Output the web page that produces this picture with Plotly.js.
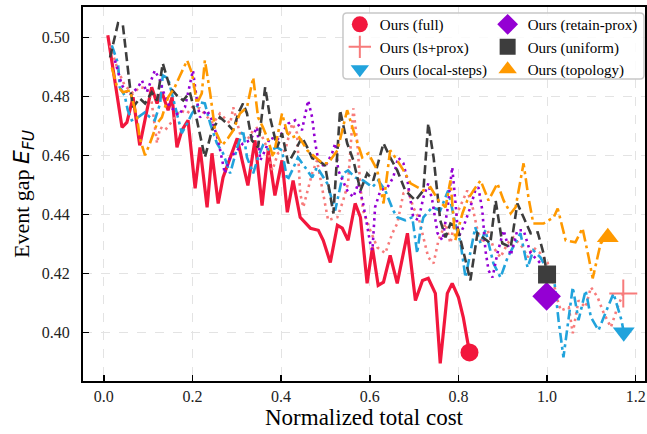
<!DOCTYPE html>
<html>
<head>
<meta charset="utf-8">
<script src="https://cdn.plot.ly/plotly-3.0.1.min.js"></script>
<style>html,body{margin:0;padding:0;background:#fff;}#chart{width:647px;height:434px;}</style>
</head>
<body>
<div id="chart"></div>
<script>
// ---- data ----
const seriesNames = ["Ours (full)", "Ours (ls+prox)", "Ours (local-steps)", "Ours (retain-prox)", "Ours (uniform)", "Ours (topology)"];

const fullX = [0.009,0.041,0.052,0.066,0.081,0.093,0.108,0.120,0.131,0.145,0.154,0.165,0.176,0.190,0.206,0.217,0.233,0.244,0.258,0.269,0.289,0.301,0.312,0.325,0.341,0.357,0.371,0.386,0.402,0.414,0.427,0.443,0.466,0.484,0.495,0.511,0.527,0.538,0.551,0.567,0.579,0.594,0.606,0.619,0.631,0.646,0.662,0.685,0.703,0.719,0.732,0.748,0.759,0.775,0.786,0.800,0.811,0.825];
const fullY = [0.5008,0.4696,0.4713,0.4798,0.4635,0.4720,0.4832,0.4777,0.4815,0.4754,0.4798,0.4628,0.4686,0.4720,0.4489,0.4628,0.4425,0.4608,0.4438,0.4526,0.4608,0.4659,0.4584,0.4499,0.4652,0.4431,0.4618,0.4465,0.4584,0.4408,0.4516,0.4391,0.4354,0.4347,0.4313,0.4238,0.4364,0.4354,0.4313,0.4438,0.4391,0.4167,0.4289,0.4160,0.4171,0.4262,0.4167,0.4337,0.4109,0.4177,0.4184,0.4133,0.3896,0.4133,0.4167,0.4120,0.4052,0.3933];

const lsproxX = [0.014,0.032,0.047,0.066,0.081,0.097,0.108,0.120,0.127,0.138,0.156,0.172,0.188,0.199,0.217,0.233,0.246,0.262,0.276,0.285,0.292,0.307,0.323,0.337,0.348,0.368,0.380,0.393,0.409,0.425,0.436,0.443,0.450,0.470,0.481,0.506,0.527,0.540,0.551,0.563,0.572,0.579,0.585,0.601,0.617,0.635,0.651,0.662,0.676,0.687,0.698,0.710,0.721,0.732,0.744,0.755,0.771,0.782,0.793,0.809,0.820,0.832,0.843,0.854,0.866,0.879,0.895,0.911,0.924,0.945,0.956,0.969,0.985,1.001,1.015,1.024,1.031,1.049,1.058,1.071,1.087,1.099,1.114,1.128,1.144,1.159,1.172];
const lsproxY = [0.4974,0.4889,0.4838,0.4811,0.4832,0.4828,0.4781,0.4642,0.4696,0.4686,0.4720,0.4754,0.4743,0.4764,0.4760,0.4730,0.4709,0.4743,0.4720,0.4709,0.4764,0.4676,0.4652,0.4686,0.4696,0.4628,0.4550,0.4608,0.4618,0.4709,0.4676,0.4472,0.4425,0.4540,0.4584,0.4381,0.4391,0.4448,0.4506,0.4760,0.4642,0.4493,0.4414,0.4347,0.4289,0.4269,0.4337,0.4370,0.4472,0.4482,0.4425,0.4391,0.4323,0.4255,0.4235,0.4313,0.4370,0.4303,0.4391,0.4448,0.4482,0.4425,0.4347,0.4303,0.4347,0.4289,0.4255,0.4303,0.4323,0.4289,0.4255,0.4289,0.4269,0.4238,0.4167,0.4109,0.4075,0.4086,0.3998,0.4109,0.4086,0.4154,0.4120,0.4066,0.4018,0.4086,0.4133];

const localX = [0.018,0.032,0.036,0.047,0.054,0.063,0.077,0.093,0.104,0.115,0.127,0.133,0.145,0.156,0.167,0.176,0.188,0.199,0.217,0.228,0.240,0.255,0.269,0.285,0.301,0.314,0.323,0.337,0.348,0.359,0.375,0.391,0.402,0.414,0.425,0.438,0.454,0.470,0.481,0.504,0.522,0.540,0.551,0.567,0.585,0.606,0.619,0.635,0.653,0.662,0.680,0.696,0.707,0.714,0.721,0.741,0.759,0.777,0.793,0.805,0.816,0.827,0.838,0.850,0.861,0.879,0.895,0.911,0.929,0.940,0.956,0.969,0.985,1.001,1.015,1.026,1.037,1.058,1.071,1.087,1.099,1.116,1.137,1.150,1.168,1.173];
const localY = [0.4974,0.4913,0.4832,0.4804,0.4754,0.4720,0.4730,0.4747,0.4730,0.4720,0.4777,0.4872,0.4862,0.4798,0.4730,0.4676,0.4709,0.4743,0.4781,0.4777,0.4709,0.4642,0.4608,0.4540,0.4628,0.4686,0.4594,0.4540,0.4594,0.4635,0.4618,0.4628,0.4618,0.4516,0.4550,0.4594,0.4561,0.4526,0.4561,0.4506,0.4414,0.4540,0.4550,0.4526,0.4516,0.4493,0.4516,0.4482,0.4414,0.4391,0.4381,0.4391,0.4269,0.4347,0.4391,0.4425,0.4414,0.4482,0.4370,0.4303,0.4187,0.4279,0.4357,0.4303,0.4347,0.4235,0.4187,0.4255,0.4303,0.4337,0.4221,0.4279,0.4255,0.4211,0.4194,0.4042,0.3916,0.4154,0.4042,0.4143,0.4052,0.4008,0.4086,0.4133,0.4042,0.4001];

const retainX = [0.025,0.041,0.059,0.077,0.086,0.097,0.115,0.127,0.133,0.149,0.160,0.167,0.183,0.194,0.201,0.210,0.217,0.233,0.244,0.258,0.267,0.273,0.285,0.301,0.314,0.330,0.346,0.353,0.364,0.375,0.391,0.402,0.416,0.432,0.447,0.461,0.470,0.477,0.484,0.499,0.515,0.522,0.529,0.549,0.563,0.574,0.585,0.594,0.601,0.606,0.612,0.624,0.640,0.653,0.664,0.676,0.685,0.692,0.698,0.710,0.721,0.732,0.741,0.753,0.764,0.775,0.786,0.793,0.800,0.811,0.827,0.838,0.845,0.854,0.861,0.868,0.877,0.888,0.902,0.918,0.933,0.947,0.963,0.979,0.985,0.999];
const retainY = [0.4923,0.4838,0.4804,0.4832,0.4855,0.4815,0.4889,0.4855,0.4821,0.4764,0.4754,0.4737,0.4764,0.4848,0.4889,0.4787,0.4730,0.4754,0.4720,0.4652,0.4584,0.4540,0.4594,0.4618,0.4642,0.4652,0.4696,0.4584,0.4618,0.4662,0.4652,0.4676,0.4709,0.4720,0.4686,0.4787,0.4730,0.4642,0.4584,0.4561,0.4608,0.4642,0.4550,0.4482,0.4459,0.4506,0.4438,0.4364,0.4303,0.4279,0.4425,0.4482,0.4493,0.4526,0.4594,0.4574,0.4516,0.4448,0.4391,0.4381,0.4459,0.4506,0.4448,0.4337,0.4313,0.4414,0.4561,0.4448,0.4323,0.4357,0.4425,0.4482,0.4493,0.4414,0.4279,0.4211,0.4187,0.4269,0.4347,0.4262,0.4347,0.4347,0.4269,0.4245,0.4235,0.4123];

const uniformX = [0.014,0.032,0.043,0.059,0.066,0.081,0.093,0.108,0.120,0.133,0.149,0.165,0.179,0.194,0.210,0.228,0.244,0.262,0.278,0.292,0.303,0.314,0.323,0.334,0.348,0.364,0.375,0.391,0.402,0.416,0.432,0.447,0.459,0.470,0.484,0.499,0.518,0.533,0.549,0.563,0.579,0.594,0.608,0.631,0.646,0.662,0.680,0.703,0.721,0.732,0.744,0.759,0.771,0.782,0.798,0.811,0.827,0.843,0.856,0.872,0.884,0.899,0.918,0.933,0.947,0.963,0.979,0.992,1.000];
const uniformY = [0.4933,0.5049,0.5042,0.4832,0.4764,0.4794,0.4777,0.4815,0.4787,0.4913,0.4832,0.4804,0.4787,0.4815,0.4720,0.4594,0.4686,0.4730,0.4709,0.4686,0.4743,0.4777,0.4743,0.4652,0.4628,0.4832,0.4730,0.4628,0.4676,0.4574,0.4618,0.4662,0.4628,0.4591,0.4584,0.4567,0.4404,0.4754,0.4642,0.4584,0.4482,0.4540,0.4516,0.4642,0.4594,0.4550,0.4482,0.4448,0.4482,0.4709,0.4594,0.4381,0.4323,0.4370,0.4357,0.4279,0.4177,0.4337,0.4323,0.4303,0.4448,0.4303,0.4289,0.4438,0.4391,0.4337,0.4340,0.4269,0.4197];

const topoX = [0.018,0.029,0.043,0.059,0.075,0.081,0.093,0.104,0.120,0.131,0.145,0.160,0.172,0.188,0.199,0.210,0.221,0.228,0.240,0.251,0.267,0.280,0.292,0.307,0.323,0.337,0.348,0.359,0.371,0.382,0.402,0.414,0.425,0.438,0.459,0.477,0.493,0.506,0.527,0.538,0.549,0.563,0.583,0.597,0.617,0.631,0.646,0.662,0.676,0.692,0.707,0.721,0.737,0.755,0.771,0.782,0.793,0.809,0.820,0.834,0.850,0.868,0.888,0.902,0.918,0.929,0.940,0.947,0.958,0.969,0.992,1.015,1.024,1.042,1.064,1.080,1.094,1.103,1.121,1.137];
const topoY = [0.4899,0.4838,0.4815,0.4821,0.4730,0.4659,0.4601,0.4642,0.4709,0.4730,0.4798,0.4832,0.4872,0.4923,0.4879,0.4777,0.4811,0.4923,0.4811,0.4686,0.4635,0.4659,0.4686,0.4743,0.4764,0.4865,0.4730,0.4696,0.4652,0.4594,0.4743,0.4676,0.4662,0.4669,0.4618,0.4594,0.4574,0.4574,0.4618,0.4686,0.4754,0.4686,0.4594,0.4608,0.4550,0.4438,0.4618,0.4584,0.4550,0.4506,0.4493,0.4482,0.4493,0.4448,0.4425,0.4516,0.4313,0.4404,0.4448,0.4482,0.4516,0.4448,0.4506,0.4448,0.4404,0.4425,0.4516,0.4574,0.4459,0.4370,0.4370,0.4391,0.4421,0.4313,0.4306,0.4354,0.4255,0.4184,0.4303,0.4323];

const xTickVals = [0.0, 0.2, 0.4, 0.6, 0.8, 1.0, 1.2];
const xTickText = ["0.0", "0.2", "0.4", "0.6", "0.8", "1.0", "1.2"];
const yTickVals = [0.40, 0.42, 0.44, 0.46, 0.48, 0.50];
const yTickText = ["0.40", "0.42", "0.44", "0.46", "0.48", "0.50"];

// ---- styles ----
const styles = [
  {x: fullX,    y: fullY,    color: '#f2173d', dash: 'solid',              width: 3.2, symbol: 'circle',        size: 18, legend: 'legend'},
  {x: lsproxX,  y: lsproxY,  color: '#f77b7b', dash: '2.5px,4px',          width: 2.6, symbol: 'cross-thin',    size: 20, legend: 'legend'},
  {x: localX,   y: localY,   color: '#21a3dc', dash: '10px,4px,3px,4px',   width: 2.6, symbol: 'triangle-down', size: 19, legend: 'legend'},
  {x: retainX,  y: retainY,  color: '#9400d3', dash: '2.5px,4px',          width: 2.6, symbol: 'diamond',       size: 22, legend: 'legend2'},
  {x: uniformX, y: uniformY, color: '#3d3d3d', dash: '9px,4.5px',          width: 2.6, symbol: 'square',        size: 18, legend: 'legend2'},
  {x: topoX,    y: topoY,    color: '#ff9900', dash: '12px,4px,3px,4px',   width: 2.6, symbol: 'triangle-up',   size: 19, legend: 'legend2'}
];

const traces = [];
styles.forEach((s, i) => {
  traces.push({
    type: 'scatter', mode: 'lines', x: s.x, y: s.y,
    line: {color: s.color, width: s.width, dash: s.dash},
    showlegend: false, hoverinfo: 'skip'
  });
});
styles.forEach((s, i) => {
  const n = s.x.length - 1;
  const isCross = s.symbol === 'cross-thin';
  traces.push({
    type: 'scatter', mode: 'markers', name: seriesNames[i],
    x: [s.x[n]], y: [s.y[n]],
    legend: s.legend,
    marker: {symbol: s.symbol, size: s.size, color: s.color,
             line: {color: s.color, width: isCross ? 2 : 0}}
  });
});

// legend frame (rounded) in paper coordinates
const L = {x0: 0.4626, x1: 0.9982, y0: 0.8075, y1: 0.984, rx: 0.007, ry: 0.0107};
const framePath = `M ${L.x0+L.rx},${L.y1} L ${L.x1-L.rx},${L.y1} Q ${L.x1},${L.y1} ${L.x1},${L.y1-L.ry} L ${L.x1},${L.y0+L.ry} Q ${L.x1},${L.y0} ${L.x1-L.rx},${L.y0} L ${L.x0+L.rx},${L.y0} Q ${L.x0},${L.y0} ${L.x0},${L.y0+L.ry} L ${L.x0},${L.y1-L.ry} Q ${L.x0},${L.y1} ${L.x0+L.rx},${L.y1} Z`;

const serif = 'Liberation Serif, Times New Roman, serif';
const legendCommon = {
  bgcolor: 'rgba(0,0,0,0)', borderwidth: 0, orientation: 'v',
  xanchor: 'left', yanchor: 'top', tracegroupgap: 0,
  font: {family: serif, size: 15, color: '#000'}, itemsizing: 'trace'
};

const layout = {
  width: 647, height: 434,
  margin: {l: 83, r: 2, t: 7, b: 53},
  paper_bgcolor: '#fff', plot_bgcolor: '#fff',
  font: {family: serif, size: 15, color: '#000'},
  showlegend: true,
  legend: Object.assign({x: 0.457, y: 0.997}, legendCommon),
  legend2: Object.assign({x: 0.720, y: 0.997}, legendCommon),
  xaxis: {
    range: [-0.047, 1.221], tickvals: xTickVals, ticktext: xTickText,
    ticks: 'inside', ticklen: 6, tickwidth: 1.5, tickcolor: '#000',
    showline: true, linewidth: 2, linecolor: '#000', mirror: true,
    showgrid: true, gridcolor: '#e3e3e3', gridwidth: 1, griddash: 'dash',
    zeroline: false,
    tickfont: {family: serif, size: 16, color: '#222'},
    title: {text: 'Normalized total cost', font: {family: serif, size: 23, color: '#000'}, standoff: 5}
  },
  yaxis: {
    range: [0.3836, 0.5104], tickvals: yTickVals, ticktext: yTickText,
    ticks: 'inside', ticklen: 6, tickwidth: 1.5, tickcolor: '#000',
    showline: true, linewidth: 2, linecolor: '#000', mirror: true,
    showgrid: true, gridcolor: '#e3e3e3', gridwidth: 1, griddash: 'dash',
    zeroline: false, ticklabelstandoff: 8,
    tickfont: {family: serif, size: 16, color: '#222'},
    title: {text: 'Event gap <span style="font-family:DejaVu Sans"><i>E</i><sub><i>FU</i></sub></span>', font: {family: serif, size: 22, color: '#000'}, standoff: 6}
  },
  shapes: [{type: 'path', xref: 'paper', yref: 'paper', path: framePath,
            fillcolor: 'rgba(255,255,255,0.85)', line: {color: '#c8c8c8', width: 1.5}, layer: 'above'}]
};

Plotly.newPlot('chart', traces, layout, {displayModeBar: false, staticPlot: true});
</script>
</body>
</html>
